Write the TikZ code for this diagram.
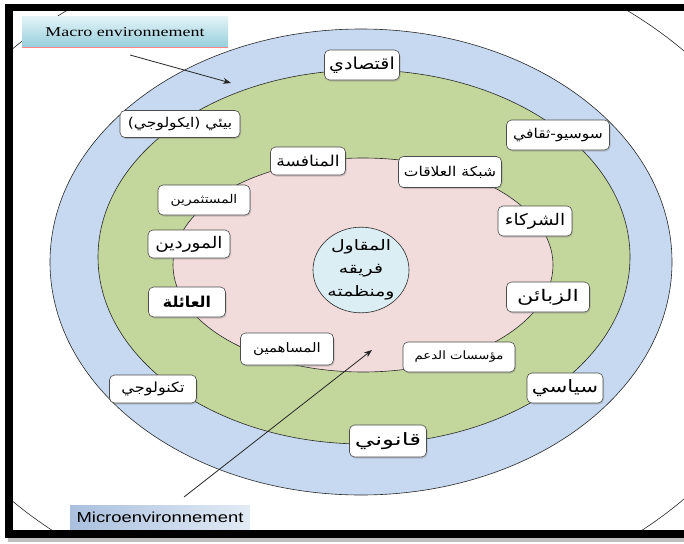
\documentclass[tikz,border=0pt]{standalone}
\usepackage{fontspec}
\usetikzlibrary{shadows,arrows.meta,shapes.geometric}
\TeXXeTstate=1
\newfontfamily\arabicfont[Script=Arabic]{DejaVu Sans}
\newfontfamily\timesfont{Liberation Serif}
\newfontfamily\arialfont{Liberation Sans}
\newcommand\artxt[2][1.15]{\scalebox{#1}[1]{\beginR #2\endR}}
\newcommand\arsize[1]{\arabicfont\fontsize{#1}{#1}\selectfont}
\definecolor{ringblue}{RGB}{198,217,240}
\definecolor{ringgreen}{RGB}{195,214,155}
\definecolor{ringpink}{RGB}{242,220,219}
\definecolor{corecol}{RGB}{219,238,244}
\definecolor{edgecol}{RGB}{40,40,40}
\definecolor{macrotop}{RGB}{226,243,247}
\definecolor{macrobot}{RGB}{150,206,220}
\definecolor{microleft}{RGB}{170,192,222}
\definecolor{microright}{RGB}{226,235,245}
\begin{document}
\begin{tikzpicture}[x=1pt,y=-1pt,
  ring/.style={draw=edgecol, line width=0.6pt},
  lbl/.style={draw=black!70, line width=0.6pt, rounded corners=5pt, fill=white,
    inner sep=0pt, minimum height=29pt,
    drop shadow={shadow xshift=1pt, shadow yshift=-1.5pt, opacity=0.35},
    font=\arsize{13}},
  pointer/.style={draw=black!85, line width=0.8pt, -{Stealth[length=8pt,width=6pt]}}
]
\useasboundingbox (0,0) rectangle (684,543);
\fill[white] (0,0) rectangle (684,543);
% outer white ellipse
\begin{scope}
  \clip (13,11) rectangle (684,530);
  \draw[edgecol, line width=0.6pt] (347,275) ellipse [x radius=450pt, y radius=338pt];
\end{scope}
% rings
\filldraw[ring, fill=ringblue] (361,262) ellipse [x radius=311pt, y radius=233pt];
\filldraw[ring, fill=ringgreen] (364,257) ellipse [x radius=266pt, y radius=187pt];
\filldraw[ring, fill=ringpink] (363,265) ellipse [x radius=190pt, y radius=107pt];
\node[ring, fill=corecol, ellipse, minimum width=96pt, minimum height=76pt, inner sep=0pt,
  align=center, font=\arabicfont\fontsize{14.5}{23}\selectfont] (core) at (361,270)
  {\artxt[1.3]{المقاول}\\ \artxt[1.3]{فريقه}\\ \artxt[1.3]{ومنظمته}};
% pointers
\coordinate (macroStart) at (130,55);
\coordinate (macroEnd) at (231,83);
\draw[pointer] (macroStart) -- (macroEnd);
\coordinate (microStart) at (184,497);
\coordinate (microEnd) at (372,350);
\draw[pointer] (microStart) -- (microEnd);
% labels
\node[lbl, minimum width=75pt, minimum height=30pt, font=\arsize{16.5}] (eco) at (362,65) {\artxt{اقتصادي}};
\node[lbl, minimum width=120pt, minimum height=27pt, font=\arsize{13.5}] (env) at (180,124) {\artxt{بيئي (ايكولوجي)}};
\node[lbl, minimum width=103pt, minimum height=30pt, font=\arsize{13.5}] (socio) at (558,135) {\artxt{سوسيو-ثقافي}};
\node[lbl, minimum width=75pt, minimum height=28pt, font=\arsize{15}] (comp) at (308,161) {\artxt{المنافسة}};
\node[lbl, minimum width=103pt, minimum height=31pt, font=\arsize{13.5}] (net) at (450,172) {\artxt{شبكة العلاقات}};
\node[lbl, minimum width=92pt, minimum height=30pt, font=\arsize{12}] (inv) at (204,200) {\artxt{المستثمرين}};
\node[lbl, minimum width=74pt, minimum height=30pt, font=\arsize{16}] (part) at (535,221) {\artxt{الشركاء}};
\node[lbl, minimum width=82pt, minimum height=28pt, font=\arsize{16}] (supp) at (189,244) {\artxt{الموردين}};
\node[lbl, minimum width=77pt, minimum height=30pt, font=\arsize{15}\bfseries] (fam) at (187,302) {\artxt[1.05]{العائلة}};
\node[lbl, minimum width=83pt, minimum height=30pt, font=\arsize{16}] (cust) at (548,297) {\artxt[1.4]{الزبائن}};
\node[lbl, minimum width=93pt, minimum height=32pt, font=\arsize{13}] (share) at (287,349) {\artxt{المساهمين}};
\node[lbl, minimum width=112pt, minimum height=30pt, font=\arsize{11.5}] (supinst) at (459,357) {\artxt{مؤسسات الدعم}};
\node[lbl, minimum width=87pt, minimum height=28pt, font=\arsize{14}] (tech) at (153,389) {\artxt{تكنولوجي}};
\node[lbl, minimum width=76pt, minimum height=30pt, font=\arsize{17}] (pol) at (565,388) {\artxt[1.25]{سياسي}};
\node[lbl, minimum width=77pt, minimum height=32pt, font=\arsize{17}] (legal) at (388,441) {\artxt[1.45]{قانوني}};
% environment titles
\node[top color=macrotop, bottom color=macrobot, minimum width=206pt, minimum height=30pt,
  inner sep=0pt, font=\timesfont\fontsize{13.5}{15}\selectfont] (macro) at (125,32)
  {\scalebox{1.33}[1]{Macro environnement}};
\draw[red!30!pink, line width=1pt] (macro.south west) -- (macro.south east);
\node[left color=microleft, right color=microright, minimum width=180pt, minimum height=25pt,
  inner sep=0pt, font=\arialfont\fontsize{14.5}{16}\selectfont] (micro) at (160,517.5)
  {\scalebox{1.27}[1]{Microenvironnement}};
% frame
\fill[black] (5,4) rectangle (684,11);
\fill[black] (5,4) rectangle (13,538);
\fill[black] (5,530) rectangle (684,538);
\fill[black!25] (8,538) rectangle (684,542);
\end{tikzpicture}
\end{document}
